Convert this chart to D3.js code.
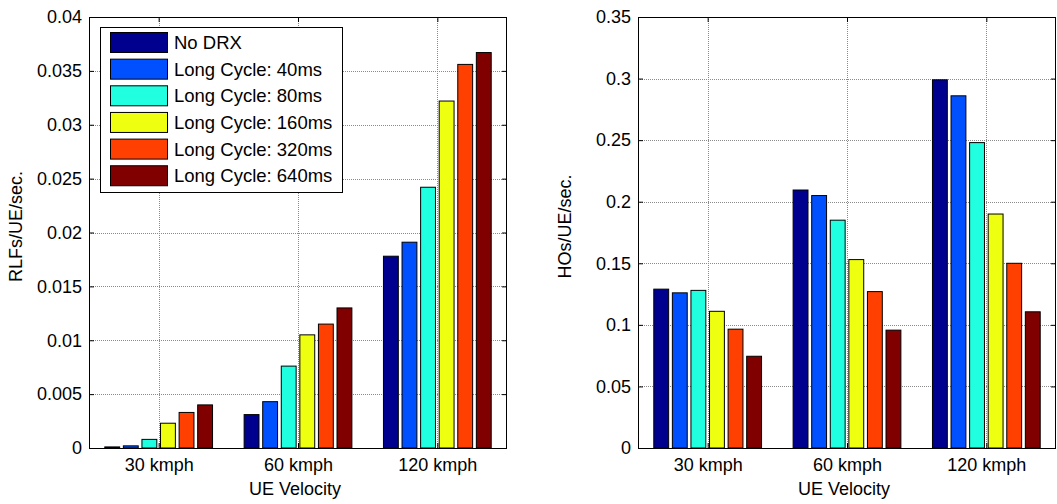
<!DOCTYPE html>
<html>
<head>
<meta charset="utf-8">
<script src="https://cdn.jsdelivr.net/npm/d3@7"></script>
<style>
  html, body { margin: 0; padding: 0; background: #fff; }
  svg { display: block; font-family: "Liberation Sans", Arial, sans-serif; }
</style>
</head>
<body>
<svg id="chart" width="1057" height="504"></svg>
<script>
// ---- data ----
const categories = ["30 kmph", "60 kmph", "120 kmph"];
const seriesNames = ["No DRX", "Long Cycle: 40ms", "Long Cycle: 80ms", "Long Cycle: 160ms", "Long Cycle: 320ms", "Long Cycle: 640ms"];
const seriesColors = ["#00008f", "#0050ff", "#20ffdf", "#efff10", "#ff4000", "#800000"];

// RLFs/UE/sec. per series (30, 60, 120 kmph)
const rlfNoDRX = [0.0001, 0.0031, 0.0178];
const rlf40 = [0.0002, 0.0043, 0.0191];
const rlf80 = [0.0008, 0.0076, 0.0242];
const rlf160 = [0.0023, 0.0105, 0.0322];
const rlf320 = [0.0033, 0.0115, 0.0356];
const rlf640 = [0.0040, 0.0130, 0.0367];

// HOs/UE/sec. per series (30, 60, 120 kmph)
const hoNoDRX = [0.129, 0.2095, 0.299];
const ho40 = [0.126, 0.205, 0.286];
const ho80 = [0.128, 0.185, 0.248];
const ho160 = [0.111, 0.153, 0.190];
const ho320 = [0.0965, 0.127, 0.150];
const ho640 = [0.0745, 0.0957, 0.1106];

const yTicksLeft = [0, 0.005, 0.01, 0.015, 0.02, 0.025, 0.03, 0.035, 0.04];
const yTickLabelsLeft = ["0", "0.005", "0.01", "0.015", "0.02", "0.025", "0.03", "0.035", "0.04"];
const yTicksRight = [0, 0.05, 0.1, 0.15, 0.2, 0.25, 0.3, 0.35];
const yTickLabelsRight = ["0", "0.05", "0.1", "0.15", "0.2", "0.25", "0.3", "0.35"];

const xLabel = "UE Velocity";
const yLabelLeft = "RLFs/UE/sec.";
const yLabelRight = "HOs/UE/sec.";

// ---- drawing ----
const svg = d3.select("#chart");
const FS = 18;

function panel(opts) {
  const { left, right, top, bottom, yMax, series, yTicks, yTickLabels, yLabel, legend } = opts;
  const x = d3.scaleLinear().domain([0.5, 3.5]).range([left, right]);
  const y = d3.scaleLinear().domain([0, yMax]).range([bottom, top]);
  const g = svg.append("g");
  const xTickVals = categories.map((c, i) => i + 1);

  // grid
  const grid = g.append("g").attr("stroke", "#8a8a8a").attr("stroke-width", 1)
    .attr("stroke-dasharray", "1,1").attr("shape-rendering", "crispEdges");
  grid.selectAll("line.h").data(yTicks.slice(1, -1)).join("line")
    .attr("x1", left).attr("x2", right)
    .attr("y1", d => Math.round(y(d)) + 0.5).attr("y2", d => Math.round(y(d)) + 0.5);
  grid.selectAll("line.v").data(xTickVals).join("line")
    .attr("y1", top).attr("y2", bottom)
    .attr("x1", d => Math.round(x(d)) + 0.5).attr("x2", d => Math.round(x(d)) + 0.5);

  // bars
  const nS = series.length;
  const groupW = 0.8;
  const step = groupW / nS;
  const barW = step * 0.8;
  series.forEach((vals, j) => {
    g.append("g").selectAll("rect").data(vals).join("rect")
      .attr("x", (d, i) => x(i + 1 + (j - (nS - 1) / 2) * step - barW / 2))
      .attr("width", x(barW) - x(0))
      .attr("y", d => y(d))
      .attr("height", d => y(0) - y(d))
      .attr("fill", seriesColors[j])
      .attr("stroke", "#000")
      .attr("stroke-width", 1);
  });

  // axes
  const yAxis = d3.axisLeft(y).tickValues(yTicks).tickFormat((d, i) => yTickLabels[i])
    .tickSizeInner(-5).tickSizeOuter(0).tickPadding(7);
  const ay = g.append("g").attr("transform", `translate(${left},0)`).call(yAxis);
  const yAxisR = d3.axisRight(y).tickValues(yTicks).tickFormat("").tickSizeInner(-5).tickSizeOuter(0);
  const ayr = g.append("g").attr("transform", `translate(${right},0)`).call(yAxisR);
  const xAxis = d3.axisBottom(x).tickValues(xTickVals).tickFormat((d, i) => categories[i])
    .tickSizeInner(-5).tickSizeOuter(0).tickPadding(10);
  const ax = g.append("g").attr("transform", `translate(0,${bottom})`).call(xAxis);
  const xAxisT = d3.axisTop(x).tickValues(xTickVals).tickFormat("").tickSizeInner(-5).tickSizeOuter(0);
  const axt = g.append("g").attr("transform", `translate(0,${top})`).call(xAxisT);
  [ay, ayr, ax, axt].forEach(a => {
    a.select(".domain").remove();
    a.selectAll("text").attr("font-size", FS).attr("fill", "#000")
      .attr("font-family", "'Liberation Sans', Arial, sans-serif");
    a.selectAll("line").attr("stroke", "#000");
  });

  // box
  g.append("rect").attr("x", left + 0.5).attr("y", top + 0.5)
    .attr("width", right - left - 1).attr("height", bottom - top)
    .attr("fill", "none").attr("stroke", "#000").attr("stroke-width", 1);

  // labels
  g.append("text").attr("x", (left + right) / 2 - 3).attr("y", bottom + 47)
    .attr("text-anchor", "middle").attr("font-size", FS).text(xLabel);
  g.append("text").attr("transform", `translate(${left - 67},${(top + bottom) / 2 - 6}) rotate(-90)`)
    .attr("text-anchor", "middle").attr("font-size", FS).text(yLabel);

  if (legend) {
    const lx = left + 11, ly = top + 10, lw = 242, lh = 165;
    const lg = g.append("g");
    lg.append("rect").attr("x", lx + 0.5).attr("y", ly + 0.5).attr("width", lw).attr("height", lh)
      .attr("fill", "#fff").attr("stroke", "#000");
    const rowH = 26.65;
    seriesNames.forEach((name, j) => {
      const cy = ly + 15.5 + j * rowH;
      lg.append("rect").attr("x", lx + 10.5).attr("y", cy - 10).attr("width", 57).attr("height", 20)
        .attr("fill", seriesColors[j]).attr("stroke", "#000");
      lg.append("text").attr("x", lx + 74).attr("y", cy).attr("dy", "0.36em")
        .attr("font-size", 18.5).text(name);
    });
  }
}

panel({
  left: 89, right: 507, top: 17, bottom: 448, yMax: 0.04,
  series: [rlfNoDRX, rlf40, rlf80, rlf160, rlf320, rlf640],
  yTicks: yTicksLeft, yTickLabels: yTickLabelsLeft, yLabel: yLabelLeft, legend: true
});
panel({
  left: 638, right: 1056, top: 17, bottom: 448, yMax: 0.35,
  series: [hoNoDRX, ho40, ho80, ho160, ho320, ho640],
  yTicks: yTicksRight, yTickLabels: yTickLabelsRight, yLabel: yLabelRight, legend: false
});
</script>
</body>
</html>
